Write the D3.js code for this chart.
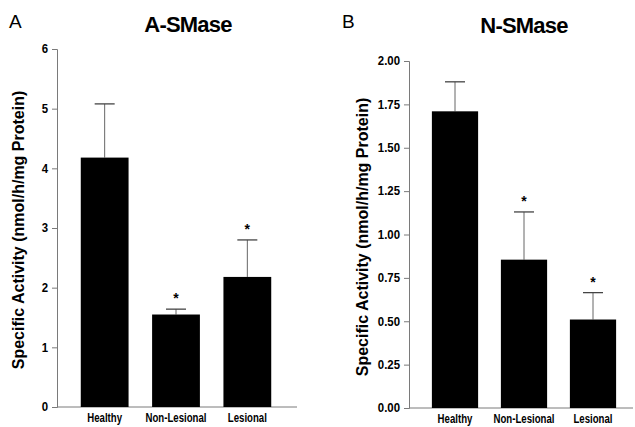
<!DOCTYPE html>
<html>
<head>
<meta charset="utf-8">
<script src="https://cdn.jsdelivr.net/npm/d3@7"></script>
<style>
  body { margin: 0; background: #fff; }
  svg { display: block; }
  text { font-family: "Liberation Sans", Arial, sans-serif; }
  .tick text { font-weight: bold; font-size: 12px; fill: #000; }
  .axis-title { font-weight: bold; font-size: 16px; }
  .title { font-weight: bold; font-size: 22px; letter-spacing: -0.8px; }
  .panel-label { font-size: 19px; }
</style>
</head>
<body>
<svg width="635" height="427"></svg>
<script>
  const categories = ["Healthy", "Non-Lesional", "Lesional"];
  const significant = [false, true, true];

  const asmaseMean = [4.18, 1.55, 2.18];
  const asmaseErr = [0.90, 0.09, 0.62];
  const asmaseTicks = [0, 1, 2, 3, 4, 5, 6];

  const nsmaseMean = [1.71, 0.855, 0.51];
  const nsmaseErr = [0.17, 0.275, 0.155];
  const nsmaseTicks = [0, 0.25, 0.5, 0.75, 1.0, 1.25, 1.5, 1.75, 2.0];

  const yLabel = "Specific Activity (nmol/h/mg Protein)";
  const svg = d3.select("svg");
  const axisColor = "#7a7a7a";

  // squeeze text horizontally, the original uses a condensed face
  const condense = (sel, k) => sel.each(function () {
    const w = this.getComputedTextLength();
    d3.select(this).attr("textLength", w * k).attr("lengthAdjust", "spacingAndGlyphs");
  });

  const drawPanel = (cfg) => {
    const data = categories.map((c, i) => ({
      cat: c, mean: cfg.mean[i], err: cfg.err[i], sig: significant[i]
    }));

    const y = d3.scaleLinear().domain([0, d3.max(cfg.ticks)]).range([cfg.bottom, cfg.top]);
    const x = d3.scaleBand().domain(categories)
      .range(cfg.bandRange).paddingInner(0.33).paddingOuter(0.165);

    const g = svg.append("g");

    // y axis
    const yAxisG = g.append("g")
      .attr("transform", `translate(${cfg.left},0)`)
      .call(d3.axisLeft(y).tickValues(cfg.ticks).tickFormat(cfg.fmt).tickSize(5).tickPadding(4));
    yAxisG.select(".domain").attr("stroke", axisColor);
    yAxisG.selectAll(".tick line").attr("stroke", axisColor);
    yAxisG.selectAll(".tick text").call(condense, 0.95);

    // x axis line
    g.append("line")
      .attr("x1", cfg.left).attr("x2", cfg.right)
      .attr("y1", cfg.bottom).attr("y2", cfg.bottom)
      .attr("stroke", axisColor);

    g.selectAll(".xlab").data(categories).enter().append("text")
      .attr("class", "xlab")
      .attr("x", (d) => x(d) + x.bandwidth() / 2)
      .attr("y", cfg.bottom + 15)
      .attr("text-anchor", "middle")
      .attr("font-weight", "bold")
      .attr("font-size", 12.5)
      .text((d) => d)
      .call(condense, 0.77);

    // error bars
    const cx = (d) => x(d.cat) + x.bandwidth() / 2;
    g.selectAll(".err").data(data).enter().append("line")
      .attr("x1", cx).attr("x2", cx)
      .attr("y1", (d) => y(d.mean)).attr("y2", (d) => y(d.mean + d.err))
      .attr("stroke", "#666");
    g.selectAll(".cap").data(data).enter().append("line")
      .attr("x1", (d) => cx(d) - 10).attr("x2", (d) => cx(d) + 10)
      .attr("y1", (d) => y(d.mean + d.err)).attr("y2", (d) => y(d.mean + d.err))
      .attr("stroke", "#444").attr("stroke-width", 1.3);

    // bars
    g.selectAll(".bar").data(data).enter().append("rect")
      .attr("x", (d) => x(d.cat))
      .attr("width", x.bandwidth())
      .attr("y", (d) => y(d.mean))
      .attr("height", (d) => y(0) - y(d.mean))
      .attr("fill", "#000");

    // significance stars
    g.selectAll(".star").data(data.filter((d) => d.sig)).enter().append("text")
      .attr("x", cx)
      .attr("y", (d) => y(d.mean + d.err) - 6)
      .attr("text-anchor", "middle")
      .attr("font-weight", "bold")
      .attr("font-size", 14)
      .text("*");

    g.append("text")
      .attr("class", "axis-title")
      .attr("transform", `translate(${cfg.titleX},${cfg.titleY}) rotate(-90)`)
      .attr("text-anchor", "middle")
      .text(yLabel);

    g.append("text")
      .attr("class", "title")
      .attr("x", cfg.headX).attr("y", cfg.headY)
      .attr("text-anchor", "middle")
      .text(cfg.title);

    g.append("text")
      .attr("class", "panel-label")
      .attr("x", cfg.labX).attr("y", 28)
      .text(cfg.label);
  };

  drawPanel({
    mean: asmaseMean, err: asmaseErr, ticks: asmaseTicks, fmt: d3.format("d"),
    left: 57, right: 297, top: 49, bottom: 407, bandRange: [69, 283],
    titleX: 24, titleY: 230, headX: 188, headY: 32, title: "A-SMase",
    labX: 9, label: "A"
  });

  drawPanel({
    mean: nsmaseMean, err: nsmaseErr, ticks: nsmaseTicks, fmt: d3.format(".2f"),
    left: 409, right: 633, top: 61, bottom: 408, bandRange: [420.5, 627.5],
    titleX: 368, titleY: 237, headX: 524, headY: 33, title: "N-SMase",
    labX: 342, label: "B"
  });
</script>
</body>
</html>
